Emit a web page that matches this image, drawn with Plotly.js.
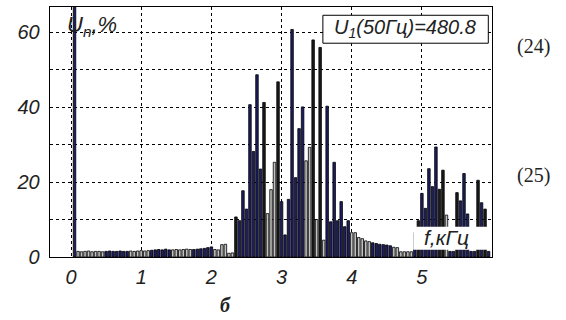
<!DOCTYPE html>
<html>
<head>
<meta charset="utf-8">
<script src="https://cdn.plot.ly/plotly-3.0.1.min.js"></script>
<style>html,body{margin:0;padding:0;background:#fff;}#chart{width:566px;height:320px;}</style>
</head>
<body>
<div id="chart"></div>
<script>
// Harmonic amplitudes U_n (% of fundamental), harmonics n = 1..119 (f1 = 50 Hz)
const fundamentalHz = 50;
const harmonicValues = [
  100,                                   // n=1
  1.5, 1.4, 1.5, 1.6, 1.4, 1.5, 1.5, 1.4, // 2-9
  1.5, 1.6, 1.5, 1.5, 1.6, 1.5, 1.5,      // 10-16
  1.6, 1.5, 1.6, 1.7, 1.6, 1.7,           // 17-22
  1.8, 1.9, 2.0, 1.9, 2.1, 1.9,           // 23-28
  1.9, 2.0, 1.9, 2.0, 2.1, 2.0,           // 29-34
  2.0, 2.1, 2.2, 2.3, 2.5, 2.7,           // 35-40
  2.0, 1.9, 3.3, 3.4, 1.0, 1.1,           // 41-46
  10.7, 9.7, 17.7, 12.8, 40.7, 28.2, 48.7, 23.5, 41.3, // 47-55
  11.6, 18.0, 25.3, 46.8,                 // 56-59
  14.8, 5.9, 15.4, 60.8, 21.2, 34.3, 40.1, // 60-66
  25.7, 29.3, 58.0, 10.0, 56.0, 4.5,      // 67-72
  40.3, 9.4, 25.3, 9.7, 14.8, 8.1, 9.7,   // 73-79
  6.5, 6.5, 5.2, 4.9, 4.3, 4.1,           // 80-85
  3.8, 3.6, 3.4, 3.3, 3.2, 3.0,           // 86-91
  2.6, 2.5, 1.4, 1.4, 1.4, 1.4,           // 92-97
  6.5, 9.7, 17.0, 13.0, 23.6, 18.8, 29.4, // 98-104
  18.1, 23.2, 11.2, 1.5, 1.5,             // 105-109
  17.2, 15.0, 22.3, 11.5, 1.5, 1.5,       // 110-115
  20.5, 14.5, 12.8, 1.5                   // 116-119
];
// group of each harmonic bar: A = dark (navy), B = grey, C = black
const harmonicGroup = [
  'A',
  'B','B','B','B','B','B','B','B',
  'A','A','A','A','A','A','A',
  'B','B','B','B','B','B',
  'A','A','A','A','A','A',
  'B','B','B','B','B','B',
  'A','A','A','A','A','A',
  'B','B','B','B','B','B',
  'C','A','A','A','A','A','A','A','C',
  'B','B','B','C',
  'A','A','A','A','A','A','A',
  'B','B','C','B','C','B',
  'A','A','A','A','A','A','A',
  'B','B','B','B','B','B',
  'A','A','A','A','A','A',
  'B','B','B','B','B','B',
  'A','C','A','A','A','A','A',
  'C','C','B','A','A',
  'C','A','A','A','A','A',
  'C','A','C','A'
];
const xTicks = [0, 1, 2, 3, 4, 5];
const yTicks = [0, 10, 20, 30, 40, 50, 60];
const yTickText = ['0', ' ', '20', ' ', '40', ' ', '60'];

const freqKHz = harmonicValues.map((_, i) => (i + 1) * fundamentalHz / 1000);

const groupStyle = {
  A: {fill: '#1d1d62'},
  B: {fill: '#c2c2c2'},
  C: {fill: '#1a1a1a'}
};

const traces = Object.keys(groupStyle).map(g => {
  const xs = [], ys = [];
  harmonicValues.forEach((v, i) => {
    if (harmonicGroup[i] === g) { xs.push(freqKHz[i]); ys.push(v); }
  });
  return {
    type: 'bar', x: xs, y: ys, width: 0.036,
    marker: {color: groupStyle[g].fill, line: {color: '#000', width: 0.8}},
    hoverinfo: 'x+y', showlegend: false
  };
});

const itFont = {family: 'Liberation Sans, Arial, sans-serif', size: 20, color: '#222', style: 'italic'};
const px = v => (v - 50) / 441.7;
const py = v => (257.3 - v) / 250.6;

const layout = {
  width: 566, height: 320,
  margin: {l: 50, r: 74.3, t: 6.7, b: 62.7, pad: 0},
  paper_bgcolor: '#fff', plot_bgcolor: '#fff',
  barmode: 'overlay',
  xaxis: {
    range: [-0.2994, 5.999], tickvals: xTicks, ticktext: xTicks.map(String),
    showgrid: true, gridcolor: '#000', gridwidth: 1, griddash: '3px,3px',
    zeroline: false, showline: true, mirror: true, linecolor: '#000', linewidth: 1.3,
    ticks: '', tickfont: itFont, ticklabelstandoff: 2
  },
  yaxis: {
    range: [0, 66.8], tickvals: yTicks, ticktext: yTickText,
    showgrid: true, gridcolor: '#000', gridwidth: 1, griddash: '3px,3px',
    zeroline: false, showline: true, mirror: true, linecolor: '#000', linewidth: 1.3,
    ticks: '', tickfont: itFont, ticklabelstandoff: 5
  },
  shapes: [
    {type: 'rect', xref: 'paper', yref: 'paper', x0: 0.002, x1: px(138), y0: py(41), y1: 0.997,
     fillcolor: '#fff', line: {width: 0}, layer: 'between'},
    {type: 'rect', xref: 'paper', yref: 'paper', x0: px(322.7), x1: px(488), y0: py(43), y1: py(15),
     fillcolor: '#fff', line: {color: '#000', width: 1}, layer: 'above'},
    {type: 'rect', xref: 'paper', yref: 'paper', x0: px(413), x1: px(490), y0: py(250), y1: py(227),
     fillcolor: '#fff', line: {width: 0}, layer: 'above'}
  ],
  annotations: [
    {xref: 'paper', yref: 'paper', x: px(92), y: py(26), text: 'U<sub>n</sub>,%',
     showarrow: false, font: Object.assign({}, itFont, {size: 22}), xanchor: 'center', yanchor: 'middle'},
    {xref: 'paper', yref: 'paper', x: px(405), y: py(28), text: 'U<sub>1</sub>(50Гц)=480.8',
     showarrow: false, font: itFont, xanchor: 'center', yanchor: 'middle'},
    {xref: 'paper', yref: 'paper', x: px(446), y: py(238), text: 'f,кГц',
     showarrow: false, font: Object.assign({}, itFont, {size: 21}), xanchor: 'center', yanchor: 'middle'},
    {xref: 'paper', yref: 'paper', x: px(533), y: py(46), text: '(24)',
     showarrow: false, font: {family: 'Liberation Serif, Times New Roman, serif', size: 20, color: '#222'},
     xanchor: 'center', yanchor: 'middle'},
    {xref: 'paper', yref: 'paper', x: px(533), y: py(176), text: '(25)',
     showarrow: false, font: {family: 'Liberation Serif, Times New Roman, serif', size: 20, color: '#222'},
     xanchor: 'center', yanchor: 'middle'},
    {xref: 'paper', yref: 'paper', x: px(225), y: py(305), text: '<b>б</b>',
     showarrow: false, font: {family: 'Liberation Serif, Times New Roman, serif', size: 20, color: '#222', style: 'italic'},
     xanchor: 'center', yanchor: 'middle'}
  ]
};

Plotly.newPlot('chart', traces, layout, {staticPlot: true, displayModeBar: false});
</script>
</body>
</html>
